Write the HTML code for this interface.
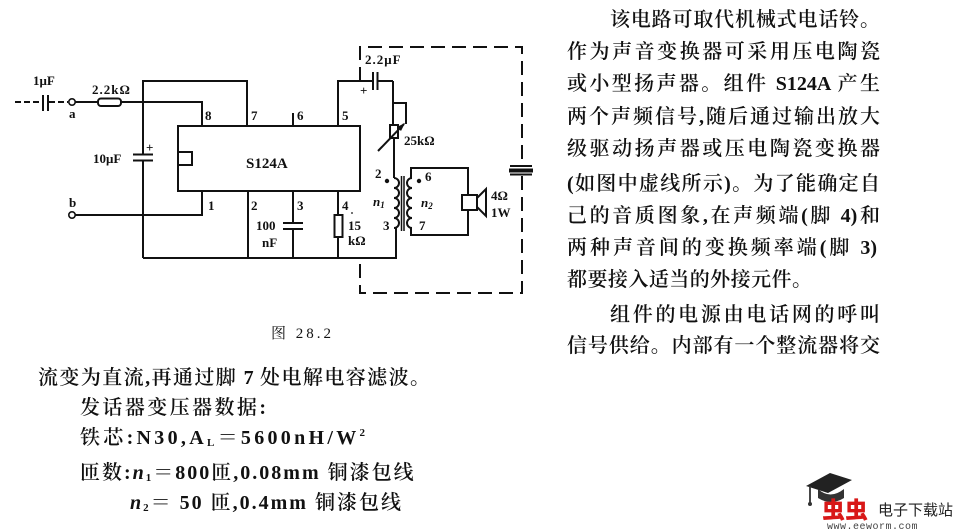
<!DOCTYPE html>
<html><head><meta charset="utf-8">
<style>
html,body{margin:0;padding:0;background:#fff;}
body{width:960px;height:531px;position:relative;overflow:hidden;}
.t{position:absolute;font-family:"Liberation Serif","Noto Serif CJK SC",serif;font-size:20px;line-height:24px;height:24px;color:#111;font-weight:600;text-align:justify;text-align-last:justify;white-space:nowrap;}
.n{position:absolute;font-family:"Liberation Serif","Noto Serif CJK SC",serif;font-size:20px;line-height:24px;height:24px;color:#111;font-weight:600;white-space:nowrap;letter-spacing:2px;}
.t sub,.n sub{font-size:11px;vertical-align:-2px;line-height:0;}
.t sup,.n sup{font-size:11px;vertical-align:8px;line-height:0;}
.t i,.n i{font-style:italic;}
svg{position:absolute;left:0;top:0;}
svg text{font-family:"Liberation Serif",serif;font-weight:bold;font-size:13px;fill:#111;}
</style></head><body>
<svg width="960" height="531" viewBox="0 0 960 531">
<g stroke="#111" stroke-width="2" fill="none">
<line x1="15" y1="102" x2="42" y2="102" stroke-dasharray="6 3"/>
<line x1="49" y1="102" x2="68" y2="102" stroke-dasharray="6 3"/>
<line x1="43" y1="95" x2="43" y2="111"/>
<line x1="48" y1="95" x2="48" y2="111"/>
<circle cx="72" cy="102" r="3.2" stroke-width="1.6"/>
<line x1="75" y1="102" x2="98" y2="102"/>
<rect x="98" y="98.5" width="23" height="7.5" rx="3"/>
<line x1="121" y1="102" x2="202" y2="102"/>
<line x1="202" y1="101" x2="202" y2="126"/>
<polyline points="143,258 143,81 247,81 247,126"/>
<line x1="134" y1="157.5" x2="152" y2="157.5" stroke="#fff" stroke-width="5"/>
<line x1="133" y1="154.5" x2="153" y2="154.5"/>
<line x1="133" y1="160.5" x2="153" y2="160.5"/>
<circle cx="72" cy="215" r="3.2" stroke-width="1.6"/>
<polyline points="75,215 202,215 202,191"/>
<rect x="178" y="126" width="182" height="65"/>
<rect x="178" y="152" width="14" height="13"/>
<line x1="293" y1="113" x2="293" y2="126"/>
<polyline points="338,126 338,81 372,81"/>
<line x1="378" y1="81" x2="393" y2="81"/>
<line x1="373" y1="72" x2="373" y2="90"/>
<line x1="377.5" y1="72" x2="377.5" y2="90"/>
<polyline points="393,81 393,125"/>
<polyline points="393,103 406,103 406,124"/>
<rect x="390" y="125" width="8" height="13"/>
<line x1="378" y1="151" x2="404" y2="124"/>
<line x1="394" y1="138" x2="394" y2="178"/>
<line x1="248" y1="191" x2="248" y2="258"/>
<line x1="293" y1="191" x2="293" y2="223"/>
<line x1="293" y1="229" x2="293" y2="258"/>
<line x1="283" y1="223" x2="303" y2="223"/>
<line x1="283" y1="229" x2="303" y2="229"/>
<line x1="338" y1="191" x2="338" y2="215"/>
<rect x="334.5" y="215" width="8" height="22"/>
<line x1="338" y1="237" x2="338" y2="258"/>
<line x1="143" y1="258" x2="397" y2="258"/>
<path d="M394,178 a5,5 0 0 1 0,10 a5,5 0 0 1 0,10 a5,5 0 0 1 0,10 a5,5 0 0 1 0,10 a5,5 0 0 1 0,10"/>
<line x1="396" y1="228" x2="396" y2="258"/>
<line x1="401.5" y1="176" x2="401.5" y2="231" stroke-width="1.5"/>
<line x1="404" y1="176" x2="404" y2="231" stroke-width="1.5"/>
<path d="M412,178 a5,5 0 0 0 0,10 a5,5 0 0 0 0,10 a5,5 0 0 0 0,10 a5,5 0 0 0 0,10 a5,5 0 0 0 0,10"/>
<polyline points="411,178 411,168 468,168 468,195"/>
<polyline points="411,228 411,235 468,235 468,210"/>
<rect x="462" y="195" width="15" height="15"/>
<polygon points="477,198 486,189 486,216 477,207"/>
<g stroke-dasharray="14 7">
<polyline points="360,81 360,47 522,47 522,165"/>
<polyline points="522,176 522,293 360,293 360,258"/>
</g>
</g>
<polygon points="405,123 397,127 401,131" fill="#111"/>
<rect x="510" y="165" width="22" height="2" fill="#111"/>
<rect x="509" y="168.5" width="24" height="4" fill="#111"/>
<rect x="510" y="173.5" width="22" height="2" fill="#111"/>
<circle cx="387" cy="181" r="2.2" fill="#111"/>
<circle cx="419" cy="181" r="2.2" fill="#111"/>
<circle cx="352" cy="213" r="0.9" fill="#111"/>
<text x="33" y="85">1μF</text>
<text x="69" y="118">a</text>
<text x="92" y="94" letter-spacing="1">2.2kΩ</text>
<text x="93" y="163">10μF</text>
<text x="146" y="152" font-size="14">+</text>
<text x="69" y="207">b</text>
<text x="205" y="120">8</text>
<text x="251" y="120">7</text>
<text x="297" y="120">6</text>
<text x="342" y="120">5</text>
<text x="246" y="168" style="font-size:15px">S124A</text>
<text x="208" y="210" font-weight="normal">1</text>
<text x="251" y="210">2</text>
<text x="297" y="210">3</text>
<text x="342" y="210">4</text>
<text x="256" y="230">100</text>
<text x="262" y="247">nF</text>
<text x="348" y="230">15</text>
<text x="348" y="245">kΩ</text>
<text x="365" y="64" letter-spacing="1">2.2μF</text>
<text x="360" y="95" font-size="14">+</text>
<text x="404" y="145">25kΩ</text>
<text x="375" y="178">2</text>
<text x="425" y="181">6</text>
<text x="373" y="206" font-style="italic">n<tspan style="font-size:9px" dy="2">1</tspan></text>
<text x="421" y="207" font-style="italic">n<tspan style="font-size:9px" dy="2">2</tspan></text>
<text x="383" y="230">3</text>
<text x="419" y="230">7</text>
<text x="491" y="200">4Ω</text>
<text x="491" y="217">1W</text>
<g>
<polygon points="806,486 830,473 852,480 828,493" fill="#222"/>
<path d="M818,489 q12,11 26,0 v9 q-13,8 -26,0z" fill="#333"/>
<line x1="810" y1="486" x2="810" y2="503" stroke="#333" stroke-width="1.8"/>
<circle cx="810" cy="504" r="2" fill="#333"/>
</g>
<text x="822" y="518" style="fill:#d81818;font-family:'Noto Sans CJK SC',sans-serif;font-weight:900;font-size:23px">虫虫</text>
<text x="878" y="515" style="font-family:'Noto Sans CJK SC',sans-serif;font-weight:normal;font-size:15px;fill:#222">电子下载站</text>
<text x="827" y="529" style="font-family:'Liberation Mono',monospace;font-weight:normal;font-size:10px;fill:#444" letter-spacing="0.5">www.eeworm.com</text>
<text x="271" y="338" style="font-family:'Liberation Serif','Noto Serif CJK SC',serif;font-weight:normal;font-size:15px" letter-spacing="3">图 28.2</text>
</svg>

<div class="t" style="left:610px;top:8px;width:270px;">该电路可取代机械式电话铃。</div>
<div class="t" style="left:567px;top:40px;width:313px;">作为声音变换器可采用压电陶瓷</div>
<div class="t" style="left:567px;top:72px;width:313px;">或小型扬声器。组件 S124A 产生</div>
<div class="t" style="left:567px;top:105px;width:313px;">两个声频信号,随后通过输出放大</div>
<div class="t" style="left:567px;top:137px;width:313px;">级驱动扬声器或压电陶瓷变换器</div>
<div class="t" style="left:567px;top:172px;width:313px;">(如图中虚线所示)。为了能确定自</div>
<div class="t" style="left:567px;top:204px;width:313px;">己的音质图象,在声频端(脚 4)和</div>
<div class="t" style="left:567px;top:236px;width:310px;">两种声音间的变换频率端(脚 3)</div>
<div class="t" style="left:567px;top:268px;width:245px;">都要接入适当的外接元件。</div>
<div class="t" style="left:610px;top:303px;width:270px;">组件的电源由电话网的呼叫</div>
<div class="t" style="left:567px;top:334px;width:313px;">信号供给。内部有一个整流器将交</div>

<div class="t" style="left:38px;top:366px;width:392px;">流变为直流,再通过脚 7 处电解电容滤波。</div>
<div class="t" style="left:80px;top:396px;width:186px;">发话器变压器数据:</div>
<div class="n" style="left:80px;top:426px;letter-spacing:3.3px;">铁芯:N30,A<sub>L</sub>＝5600nH/W<sup>2</sup></div>
<div class="n" style="left:80px;top:461px;">匝数:<i>n</i><sub>1</sub>＝800匝,0.08mm 铜漆包线</div>
<div class="n" style="left:130px;top:491px;"><i>n</i><sub>2</sub>＝ 50 匝,0.4mm 铜漆包线</div>
</body></html>
